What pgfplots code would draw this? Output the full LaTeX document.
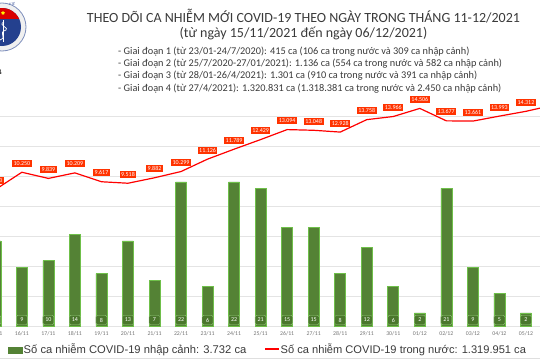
\documentclass[border=0pt]{standalone}
\usepackage{fontspec}
\setmainfont{Carlito}
\newfontfamily\arial{Liberation Sans}
\usepackage{pgfplots}
\usepackage{pgfplotstable}
\pgfplotsset{compat=1.18}
\usetikzlibrary{shapes.geometric}
\definecolor{barfill}{HTML}{548235}
\definecolor{baredge}{HTML}{6FC04A}
\definecolor{boxgreen}{HTML}{4A772C}
\definecolor{linered}{HTML}{FF0000}
\definecolor{labred}{HTML}{FF3300}
\definecolor{txt}{HTML}{3A3A3A}
\definecolor{gridc}{HTML}{E4E4E4}
\definecolor{logoblue}{HTML}{24408E}

\pgfplotstableread{
x y v
0 9093 9.093
1 10250 10.250
2 9839 9.839
3 10209 10.209
4 9617 9.617
5 9518 9.518
6 9882 9.882
7 10299 10.299
8 11126 11.126
9 11789 11.789
10 12429 12.429
11 13094 13.094
12 13048 13.048
13 12928 12.928
14 13758 13.758
15 13966 13.966
16 14506 14.506
17 13677 13.677
18 13661 13.661
19 13993 13.993
20 14312 14.312
21 14713 14.713
}\linedata

\pgfplotstableread{
x n
0 13
1 9
2 10
3 14
4 8
5 13
6 7
7 22
8 6
9 22
10 21
11 15
12 15
13 8
14 12
15 6
16 2
17 21
18 9
19 5
20 2
}\bardata

\begin{document}
\begin{tikzpicture}[x=1pt,y=1pt]
\useasboundingbox (0,0) rectangle (540,360);
\clip (0,0) rectangle (540,360);

% logo
\fill[gray!12] (2,333) circle (24);
\draw[logoblue!60, line width=0.8pt] (2,333) circle (24);
\fill[logoblue] (2,333) circle (19);
\begin{scope}
\clip (2,333) circle (19);
\fill[red!85!black] (-20,341) rectangle (25,356);
\end{scope}
\node[star, star points=5, fill=yellow, minimum size=4pt, inner sep=0pt] at (3,347) {};
\draw[white, line width=1pt] (3,318) -- (3,340);
\draw[white, line width=0.7pt] (0,320) .. controls (8,323) and (-3,327) .. (6,330) .. controls (10,332) and (-3,335) .. (4,338);
\node[font=\fontsize{3.5}{4}\selectfont, text=logoblue] at (12,356) {Y TẾ};

% titles
\node[text=txt, font=\fontsize{14}{16}\selectfont] at (303.5,344) {THEO DÕI CA NHIỄM MỚI COVID-19 THEO NGÀY TRONG THÁNG 11-12/2021};
\node[text=txt, font=\fontsize{14}{16}\selectfont] at (303.5,327) {(từ ngày 15/11/2021 đến ngày 06/12/2021)};
\begin{scope}[every node/.style={anchor=west, text=txt, font=\fontsize{10.3}{12}\selectfont, inner sep=0pt}]
\node at (118,308) {- Giai đoạn 1 (từ 23/01-24/7/2020): 415 ca (106 ca trong nước và 309 ca nhập cảnh)};
\node at (118,296) {- Giai đoạn 2 (từ 25/7/2020-27/01/2021): 1.136 ca (554 ca trong nước và 582 ca nhập cảnh)};
\node at (118,284) {- Giai đoạn 3 (từ 28/01-26/4/2021): 1.301 ca (910 ca trong nước và 391 ca nhập cảnh)};
\node at (118,271) {- Giai đoạn 4 (từ 27/4/2021): 1.320.831 ca (1.318.381 ca trong nước và 2.450 ca nhập cảnh)};
\end{scope}

% line axis with grid
\begin{axis}[at={(-17.93pt,34pt)}, anchor=south west, scale only axis,
  width=583.66pt, height=240pt,
  xmin=-0.5, xmax=21.5, ymin=0, ymax=16000,
  ytick={0,2000,...,14000}, yticklabels={},
  ymajorgrids, grid style={gridc, line width=0.8pt},
  axis line style={draw=none}, major tick length=0pt,
  xtick={0,...,20},
  xticklabels={15/11,16/11,17/11,18/11,19/11,20/11,21/11,22/11,23/11,24/11,25/11,26/11,27/11,28/11,29/11,30/11,01/12,02/12,03/12,04/12,05/12},
  xticklabel style={font=\fontsize{5.8}{6}\selectfont, text=gray!90!black, yshift=-1.5pt}]
\addplot[linered, line width=1.2pt, mark=none, nodes near coords, point meta=explicit symbolic,
  nodes near coords style={fill=labred, text=white, font=\fontsize{6}{7}\selectfont, inner sep=1.5pt, anchor=center, yshift=9pt}]
  table[x=x, y=y, meta=v] {\linedata};
\end{axis}

% bar axis
\begin{axis}[at={(-17.93pt,34pt)}, anchor=south west, scale only axis,
  width=583.66pt, height=240pt,
  xmin=-0.5, xmax=21.5, ymin=0, ymax=36.64, hide axis]
\addplot[ybar, bar width=11pt, fill=barfill, draw=baredge, line width=0.6pt] table[x=x, y=n] {\bardata};
\addplot[draw=none, mark=none, nodes near coords, point meta=explicit symbolic,
  nodes near coords style={fill=boxgreen, draw=baredge!70, line width=0.3pt, rounded corners=1.5pt, text=white, font=\fontsize{6}{7}\selectfont, minimum width=11pt, minimum height=9.5pt, inner sep=0pt, anchor=center}]
  table[x=x, y expr=0.916, meta=n] {\bardata};
\end{axis}

% legend
\fill[barfill] (8,6.5) rectangle (23,13.5);
\node[anchor=west, inner sep=0pt, text=txt, font=\arial\fontsize{11.2}{13}\selectfont] at (23.5,10) {Số ca nhiễm COVID-19 nhập cảnh: 3.732 ca};
\draw[linered, line width=1.2pt] (265,11) -- (279,11);
\node[anchor=west, inner sep=0pt, text=txt, font=\arial\fontsize{11.1}{13}\selectfont] at (280.5,10) {Số ca nhiễm COVID-19 trong nước: 1.319.951 ca};
\draw[gray!25, line width=0.8pt] (0,1.5) -- (540,1.5);
\end{tikzpicture}
\end{document}
